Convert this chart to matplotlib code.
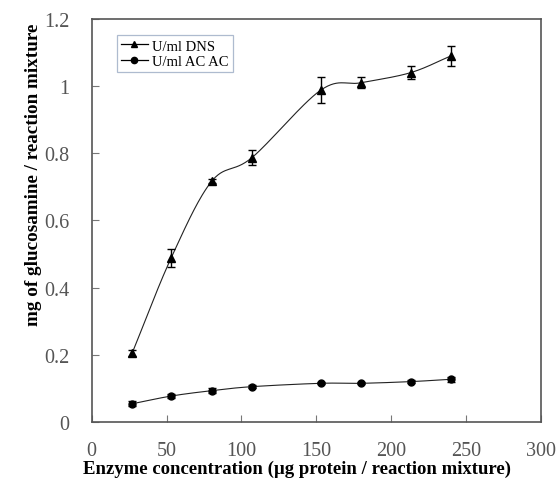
import numpy as np
import matplotlib
matplotlib.use("Agg")
import matplotlib.pyplot as plt

# Enzyme concentration (µg protein / reaction mixture)
conc = [27, 53, 80, 107, 153, 180, 213, 240]

# Glucosamine released, DNS assay
dns_vals = [0.205, 0.488, 0.716, 0.787, 0.988, 1.010, 1.040, 1.090]
dns_err = [0.008, 0.026, 0.006, 0.022, 0.039, 0.016, 0.020, 0.030]

# Glucosamine released, AC AC assay
acac_vals = [0.054, 0.077, 0.093, 0.105, 0.115, 0.115, 0.120, 0.127]
acac_err = [0.008, 0.005, 0.008, 0.005, 0.003, 0.003, 0.004, 0.007]

x_ticks = [0, 50, 100, 150, 200, 250, 300]
y_ticks = [0, 0.2, 0.4, 0.6, 0.8, 1.0, 1.2]
y_tick_labels = ["0", "0.2", "0.4", "0.6", "0.8", "1", "1.2"]


def smooth_curve(x, y, n=30):
    """Catmull-Rom style smoothing between consecutive points."""
    x = np.asarray(x, float)
    y = np.asarray(y, float)
    px = np.concatenate([[2 * x[0] - x[1]], x, [2 * x[-1] - x[-2]]])
    py = np.concatenate([[2 * y[0] - y[1]], y, [2 * y[-1] - y[-2]]])
    xs, ys = [], []
    for i in range(1, len(px) - 2):
        t = np.linspace(0, 1, n, endpoint=False)
        p0, p1, p2, p3 = [np.array([px[j], py[j]]) for j in range(i - 1, i + 3)]
        t2, t3 = t * t, t * t * t
        pts = 0.5 * ((2 * p1)[:, None] + (-p0 + p2)[:, None] * t
                     + (2 * p0 - 5 * p1 + 4 * p2 - p3)[:, None] * t2
                     + (-p0 + 3 * p1 - 3 * p2 + p3)[:, None] * t3)
        xs.extend(pts[0])
        ys.extend(pts[1])
    xs.append(x[-1])
    ys.append(y[-1])
    return np.array(xs), np.array(ys)


plt.rcParams["font.family"] = ["Liberation Serif", "DejaVu Serif"]

fig = plt.figure(figsize=(5.56, 4.85), dpi=100)
ax = fig.add_axes([0.165, 0.128, 0.808, 0.831])

for vals, err, marker, label in [
    (dns_vals, dns_err, "^", "U/ml DNS"),
    (acac_vals, acac_err, "o", "U/ml AC AC"),
]:
    sx, sy = smooth_curve(conc, vals)
    ax.plot(sx, sy, color="#222222", lw=0.8, zorder=2)
    ax.errorbar(conc, vals, yerr=err, fmt="none", ecolor="black",
                elinewidth=1.0, capsize=3, capthick=1.0, zorder=3)
    ax.plot(conc, vals, marker=marker, linestyle="none", color="black",
            markersize=6 if marker == "^" else 5, zorder=4)
    # legend proxy
    ax.plot([], [], marker=marker, color="black", lw=0.9,
            markersize=5 if marker == "^" else 4.5, label=label)

ax.set_xlim(0, 300)
ax.set_ylim(0, 1.2)
ax.set_xticks(x_ticks)
ax.set_yticks(y_ticks)
ax.set_yticklabels(y_tick_labels)
ax.tick_params(direction="in", length=5, width=0.8, colors="#777777",
               labelcolor="#555555", labelsize=14.5)
ax.tick_params(axis="y", pad=16)
ax.tick_params(axis="x", pad=14)
for sp in ax.spines.values():
    sp.set_color("#555555")
    sp.set_linewidth(1.2)

ax.set_xlabel("Enzyme concentration (µg protein / reaction mixture)",
              fontsize=13.5, fontweight="bold")
ax.xaxis.set_label_coords(0.457, -0.094)
ax.set_ylabel("mg of glucosamine / reaction mixture",
              fontsize=13.8, fontweight="bold")
ax.yaxis.set_label_coords(-0.11, 0.615)

leg = ax.legend(loc="upper left", bbox_to_anchor=(0.056, 0.96), fontsize=10.5,
                frameon=True, fancybox=False, handlelength=1.8,
                borderpad=0.3, labelspacing=0.15, handletextpad=0.3,
                borderaxespad=0)
leg.get_frame().set_edgecolor("#9aaac4")
leg.get_frame().set_linewidth(0.9)

fig.savefig("out.png", dpi=100, facecolor="white")
